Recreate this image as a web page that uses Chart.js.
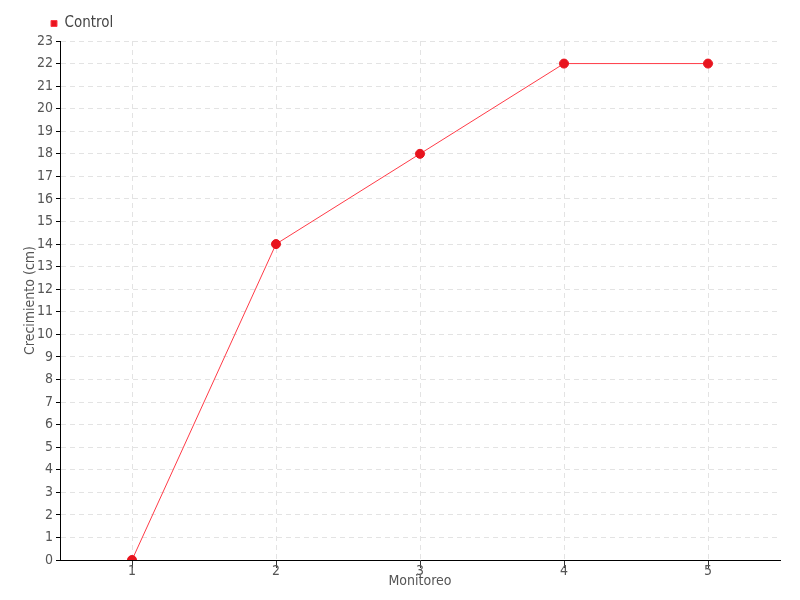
<!DOCTYPE html>
<html>
<head>
<meta charset="utf-8">
<script src="https://cdn.jsdelivr.net/npm/chart.js@4"></script>
<style>
  html, body { margin: 0; padding: 0; background: #fff; }
  #wrap { width: 800px; height: 600px; }
</style>
</head>
<body>
<div id="wrap"><canvas id="chart" width="800" height="600"></canvas></div>
<script>
const categories = ["1", "2", "3", "4", "5"];
const controlValues = [0, 14, 18, 22, 22];
const seriesName = "Control";
const yMin = 0, yMax = 23;

const fontFamily = "'Liberation Sans Narrow', 'DejaVu Sans Condensed', sans-serif";

// nudge the legend to the right, over the y axis
const legendShift = {
  id: "legendShift",
  afterLayout(chart) {
    if (chart.legend) {
      chart.legend.left += 33;
      chart.legend.right += 33;
    }
  }
};

const ctx = document.getElementById("chart").getContext("2d");
new Chart(ctx, {
  type: "line",
  data: {
    labels: categories,
    datasets: [{
      label: seriesName,
      data: controlValues,
      borderColor: "#ff3b47",
      backgroundColor: "#e8141e",
      borderWidth: 1,
      pointRadius: 4.5,
      pointBorderWidth: 1,
      pointBorderColor: "#e8141e",
      pointBackgroundColor: "#e8141e",
      tension: 0,
      fill: false
    }]
  },
  options: {
    responsive: false,
    animation: false,
    layout: { padding: { left: 10, right: 20, top: 8, bottom: 10 } },
    plugins: {
      legend: {
        align: "start",
        labels: {
          boxWidth: 6,
          boxHeight: 6,
          padding: 8,
          color: "#444",
          font: { family: fontFamily, size: 15 }
        }
      },
      tooltip: { enabled: false }
    },
    scales: {
      x: {
        offset: true,
        grid: {
          offset: false,
          color: "#e3e3e3",
          tickColor: "#333",
          tickLength: 8
        },
        border: { color: "#000", width: 1, dash: [5, 4] },
        ticks: { color: "#555", padding: -5, font: { family: fontFamily, size: 14 } },
        title: {
          display: true,
          text: "Monitoreo",
          color: "#555",
          padding: { top: 0, bottom: 0 },
          font: { family: fontFamily, size: 14 }
        },
        afterFit: s => { s.height = 30; }
      },
      y: {
        min: yMin,
        max: yMax,
        grid: {
          color: "#e3e3e3",
          tickColor: "#000",
          tickLength: 4
        },
        border: { color: "#000", width: 1, dash: [5, 4] },
        ticks: {
          stepSize: 1,
          color: "#555",
          padding: 3,
          font: { family: fontFamily, size: 14 }
        },
        title: {
          display: true,
          text: "Crecimiento (cm)",
          color: "#555",
          padding: { top: 12, bottom: 4 },
          font: { family: fontFamily, size: 14 }
        },
        afterFit: s => { s.width = 50; }
      }
    }
  },
  plugins: [legendShift]
});
</script>
</body>
</html>
